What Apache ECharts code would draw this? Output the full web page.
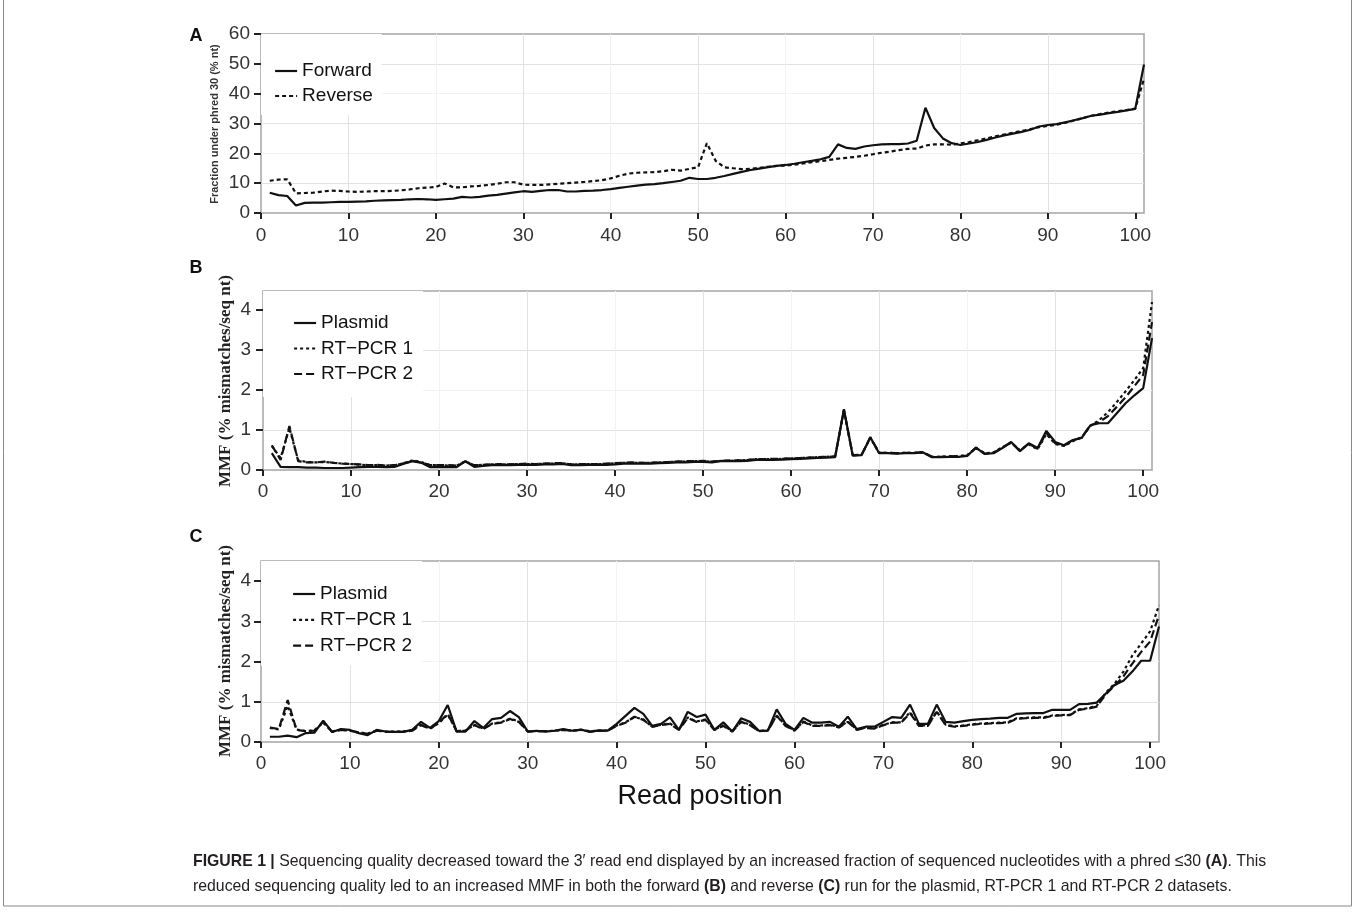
<!DOCTYPE html>
<html><head><meta charset="utf-8">
<script src="https://cdn.jsdelivr.net/npm/echarts@6/dist/echarts.min.js"></script>
<style>html,body{margin:0;padding:0;background:#fff}#chart{width:1355px;height:914px}</style>
</head><body><div id="chart"></div>
<script>
// ---------- DATA ----------
const readPositions = [];
for (let p = 1; p <= 101; p++) readPositions.push(p);

const xTickLabels = [0, 10, 20, 30, 40, 50, 60, 70, 80, 90, 100];
const yTicksA = [0, 10, 20, 30, 40, 50, 60];
const yTicksMMF = [0, 1, 2, 3, 4];

// Panel A: fraction under phred 30 (% nt)
const aForward = [6.8,6.0,5.7,2.5,3.4,3.5,3.5,3.6,3.7,3.7,
  3.8,3.9,4.1,4.2,4.3,4.4,4.6,4.7,4.6,4.4,
  4.6,4.8,5.4,5.2,5.4,5.8,6.1,6.5,6.9,7.3,
  7.1,7.4,7.7,7.7,7.2,7.2,7.4,7.5,7.7,8.0,
  8.4,8.8,9.2,9.5,9.7,10.0,10.4,10.8,11.8,11.4,
  11.4,11.8,12.4,13.1,13.8,14.4,14.9,15.4,15.8,16.1,
  16.5,17.0,17.5,18.0,18.8,23.0,21.8,21.5,22.3,22.7,
  23.0,23.1,23.1,23.3,24.2,35.3,28.5,25.0,23.4,22.8,
  23.3,23.8,24.5,25.3,26.0,26.6,27.2,27.9,29.0,29.5,
  29.8,30.4,31.1,31.8,32.6,33.0,33.5,33.9,34.4,34.9,49.8];
const aReverse = [10.8,11.2,11.3,6.6,6.7,6.8,7.2,7.5,7.4,7.2,
  7.1,7.2,7.3,7.3,7.4,7.6,7.9,8.3,8.5,8.7,
  9.9,8.6,8.6,8.9,9.1,9.4,9.8,10.3,10.3,9.5,
  9.4,9.4,9.6,9.8,10.0,10.2,10.4,10.7,11.0,11.6,
  12.5,13.2,13.5,13.6,13.7,14.0,14.5,14.2,14.8,15.4,
  23.4,17.5,15.3,15.0,14.7,14.8,15.1,15.5,15.8,15.9,
  16.2,16.6,17.0,17.4,17.8,18.2,18.5,18.8,19.2,19.7,
  20.2,20.6,21.1,21.5,21.6,22.6,23.0,23.0,22.9,23.3,
  23.8,24.4,25.0,25.7,26.3,26.9,27.5,28.1,28.8,29.2,
  29.6,30.3,31.0,31.8,32.6,33.2,33.7,34.1,34.5,35.0,45.0];

// Panel B: MMF forward run
const bPlasmid = [0.42,0.08,0.07,0.07,0.06,0.06,0.05,0.05,0.05,0.06,
  0.07,0.08,0.08,0.07,0.08,0.16,0.22,0.18,0.07,0.08,
  0.07,0.07,0.22,0.08,0.10,0.12,0.12,0.12,0.13,0.13,
  0.13,0.14,0.14,0.15,0.12,0.12,0.13,0.13,0.13,0.14,
  0.16,0.16,0.16,0.16,0.17,0.18,0.19,0.19,0.20,0.20,
  0.19,0.22,0.22,0.22,0.23,0.25,0.25,0.25,0.26,0.27,
  0.28,0.29,0.30,0.31,0.32,1.52,0.36,0.37,0.82,0.42,
  0.42,0.41,0.42,0.42,0.44,0.32,0.32,0.33,0.33,0.35,
  0.56,0.40,0.42,0.55,0.70,0.47,0.67,0.55,0.98,0.70,
  0.62,0.75,0.80,1.12,1.17,1.17,1.42,1.67,1.87,2.05,3.30];
const bRT1 = [0.60,0.30,1.05,0.24,0.20,0.19,0.20,0.18,0.16,0.15,
  0.13,0.12,0.12,0.11,0.12,0.17,0.24,0.20,0.12,0.12,
  0.11,0.11,0.22,0.11,0.13,0.14,0.14,0.14,0.15,0.15,
  0.15,0.16,0.16,0.17,0.14,0.14,0.15,0.15,0.15,0.17,
  0.18,0.18,0.18,0.18,0.19,0.20,0.21,0.21,0.22,0.22,
  0.21,0.23,0.23,0.24,0.25,0.27,0.27,0.27,0.28,0.29,
  0.30,0.31,0.32,0.33,0.34,1.48,0.37,0.38,0.80,0.43,
  0.43,0.42,0.43,0.43,0.44,0.33,0.33,0.34,0.35,0.37,
  0.55,0.42,0.44,0.57,0.68,0.50,0.64,0.52,0.90,0.65,
  0.60,0.72,0.82,1.10,1.25,1.45,1.70,1.97,2.25,2.55,4.20];
const bRT2 = [0.62,0.25,1.10,0.22,0.19,0.19,0.21,0.18,0.16,0.15,
  0.14,0.12,0.13,0.11,0.12,0.17,0.23,0.19,0.12,0.12,
  0.12,0.11,0.21,0.12,0.13,0.14,0.15,0.14,0.15,0.16,
  0.15,0.16,0.17,0.17,0.14,0.15,0.15,0.15,0.16,0.17,
  0.18,0.19,0.18,0.18,0.19,0.20,0.21,0.22,0.22,0.23,
  0.21,0.23,0.24,0.24,0.25,0.27,0.27,0.28,0.28,0.29,
  0.30,0.31,0.32,0.33,0.34,1.50,0.37,0.38,0.82,0.43,
  0.43,0.42,0.43,0.43,0.45,0.33,0.33,0.34,0.35,0.36,
  0.56,0.41,0.43,0.56,0.69,0.48,0.66,0.53,0.93,0.67,
  0.61,0.74,0.81,1.12,1.20,1.35,1.58,1.82,2.10,2.38,3.70];

// Panel C: MMF reverse run
const cPlasmid = [0.13,0.13,0.16,0.12,0.22,0.23,0.53,0.25,0.32,0.30,
  0.22,0.17,0.30,0.26,0.25,0.25,0.30,0.50,0.35,0.52,
  0.92,0.26,0.26,0.52,0.35,0.57,0.60,0.77,0.62,0.26,
  0.28,0.26,0.28,0.32,0.28,0.31,0.25,0.29,0.28,0.45,
  0.65,0.85,0.70,0.40,0.45,0.61,0.30,0.75,0.62,0.68,
  0.30,0.49,0.26,0.59,0.50,0.28,0.28,0.81,0.45,0.30,
  0.60,0.48,0.48,0.50,0.38,0.63,0.32,0.38,0.38,0.50,
  0.62,0.60,0.93,0.45,0.45,0.93,0.50,0.48,0.52,0.55,
  0.57,0.58,0.60,0.60,0.70,0.71,0.72,0.72,0.80,0.80,
  0.80,0.94,0.95,0.98,1.20,1.42,1.52,1.75,2.02,2.02,2.87];
const cRT1 = [0.35,0.31,0.90,0.31,0.27,0.29,0.48,0.26,0.31,0.28,
  0.24,0.21,0.28,0.26,0.26,0.26,0.29,0.43,0.33,0.47,
  0.68,0.28,0.28,0.43,0.33,0.46,0.49,0.58,0.51,0.27,
  0.27,0.27,0.28,0.30,0.28,0.30,0.27,0.28,0.29,0.41,
  0.49,0.62,0.56,0.38,0.43,0.46,0.31,0.61,0.51,0.56,
  0.31,0.41,0.27,0.51,0.43,0.27,0.29,0.66,0.41,0.29,
  0.51,0.41,0.41,0.43,0.37,0.51,0.31,0.36,0.34,0.43,
  0.49,0.49,0.74,0.41,0.41,0.76,0.43,0.39,0.41,0.44,
  0.46,0.47,0.48,0.49,0.59,0.60,0.61,0.61,0.66,0.67,
  0.68,0.81,0.84,0.90,1.22,1.45,1.75,2.15,2.45,2.75,3.40];
const cRT2 = [0.36,0.32,1.04,0.30,0.27,0.28,0.50,0.25,0.30,0.28,
  0.24,0.20,0.28,0.26,0.25,0.26,0.28,0.42,0.33,0.48,
  0.70,0.27,0.28,0.42,0.32,0.45,0.48,0.57,0.50,0.26,
  0.27,0.27,0.28,0.30,0.28,0.30,0.26,0.28,0.28,0.40,
  0.48,0.63,0.55,0.38,0.42,0.45,0.30,0.60,0.50,0.55,
  0.30,0.40,0.26,0.50,0.42,0.27,0.28,0.65,0.40,0.28,
  0.50,0.40,0.40,0.42,0.36,0.50,0.30,0.35,0.33,0.42,
  0.48,0.48,0.72,0.40,0.40,0.75,0.42,0.38,0.40,0.43,
  0.45,0.46,0.47,0.48,0.58,0.59,0.60,0.60,0.65,0.66,
  0.67,0.80,0.83,0.88,1.18,1.40,1.63,1.95,2.24,2.50,3.15];

const captionLine1 = '{b|FIGURE 1 |} Sequencing quality decreased toward the 3\u2032 read end displayed by an increased fraction of sequenced nucleotides with a phred \u226430 {b|(A)}. This';
const captionLine2 = 'reduced sequencing quality led to an increased MMF in both the forward {b|(B)} and reverse {b|(C)} run for the plasmid, RT-PCR 1 and RT-PCR 2 datasets.';

// ---------- CHART ----------
const SANS = '"Liberation Sans", Arial, Helvetica, sans-serif';
const SERIF = '"Liberation Serif", "Times New Roman", serif';
const INK = '#111';
const GRID_MAJOR = '#e2e2e2';
const GRID_MINOR = '#f2f2f2';
const CAP_SIZE = 17;

function pairs(arr) { return readPositions.map((p, i) => [p, arr[i]]); }

function xAxisFor(gi, margin) {
  return {
    type: 'value', gridIndex: gi, min: 0, max: 101, interval: 5,
    axisLine: { show: false },
    axisTick: { show: true, customValues: xTickLabels, length: 6, lineStyle: { color: '#222', width: 2 } },
    axisLabel: { customValues: xTickLabels, fontSize: 19, color: '#333', fontFamily: SANS, margin: margin },
    splitLine: { show: true, showMinLine: false, showMaxLine: false, lineStyle: { color: [GRID_MAJOR, GRID_MINOR], width: 1 } }
  };
}
function yAxisFor(gi, max, interval, ticks, margin) {
  return {
    type: 'value', gridIndex: gi, min: 0, max: max, interval: interval,
    axisLine: { show: false },
    axisTick: { show: true, customValues: ticks, length: 7, lineStyle: { color: '#222', width: 2 } },
    axisLabel: { customValues: ticks, fontSize: 19, color: '#333', fontFamily: SANS, margin: margin },
    splitLine: { show: true, showMinLine: false, showMaxLine: false, lineStyle: { color: [GRID_MAJOR, GRID_MINOR], width: 1 } }
  };
}
function lineSeries(name, arr, gi, dash) {
  return {
    type: 'line', name: name, xAxisIndex: gi, yAxisIndex: gi,
    data: pairs(arr), showSymbol: false, symbol: 'none',
    lineStyle: { color: INK, width: 2.2, type: dash || 'solid' },
    itemStyle: { color: INK },
    emphasis: { disabled: true }, z: 3
  };
}
function legendFor(names, left, top, padding, gap) {
  return {
    data: names, orient: 'vertical', left: left, top: top, padding: padding,
    itemWidth: 22, itemHeight: 14, itemGap: gap,
    backgroundColor: '#fff', selectedMode: false,
    itemStyle: { opacity: 0, borderWidth: 0 },
    lineStyle: { width: 2.2 },
    textStyle: { fontSize: 19, color: INK, fontFamily: SANS, lineHeight: 20 }
  };
}

// caption horizontal scale (condensed look)
const mctx = document.createElement('canvas').getContext('2d');
mctx.font = CAP_SIZE + 'px ' + SANS;
const plain1 = captionLine1.replace(/\{b\|([^}]*)\}/g, '$1');
const capScale = 1072 / mctx.measureText(plain1).width;

const capRich = { b: { fontWeight: 'bold', fontSize: CAP_SIZE, fontFamily: SANS, fill: '#231f20' } };

const option = {
  animation: false,
  backgroundColor: '#fff',
  grid: [
    { left: 261, top: 34, width: 883, height: 179, show: true, borderColor: '#a5a5a5', borderWidth: 1.5, backgroundColor: 'transparent' },
    { left: 263, top: 291, width: 889, height: 179, show: true, borderColor: '#a5a5a5', borderWidth: 1.5, backgroundColor: 'transparent' },
    { left: 261, top: 561, width: 898, height: 181, show: true, borderColor: '#a5a5a5', borderWidth: 1.5, backgroundColor: 'transparent' }
  ],
  xAxis: [xAxisFor(0, 13), xAxisFor(1, 12), xAxisFor(2, 12)],
  yAxis: [yAxisFor(0, 60, 5, yTicksA, 11), yAxisFor(1, 4.48, 0.5, yTicksMMF, 12), yAxisFor(2, 4.5, 0.5, yTicksMMF, 10)],
  legend: [
    legendFor(['Forward', 'Reverse'], 261, 34, [27, 9, 9, 13], 5),
    legendFor(['Plasmid', 'RT\u2212PCR 1', 'RT\u2212PCR 2'], 263, 291, [22, 10, 13, 30], 5.5),
    legendFor(['Plasmid', 'RT\u2212PCR 1', 'RT\u2212PCR 2'], 261, 561, [23, 10, 10, 31], 5.8)
  ],
  series: [
    lineSeries('Forward', aForward, 0),
    lineSeries('Reverse', aReverse, 0, [4, 3]),
    lineSeries('Plasmid', bPlasmid, 1),
    lineSeries('RT\u2212PCR 1', bRT1, 1, [3, 3]),
    lineSeries('RT\u2212PCR 2', bRT2, 1, [8, 4]),
    lineSeries('Plasmid', cPlasmid, 2),
    lineSeries('RT\u2212PCR 1', cRT1, 2, [3, 3]),
    lineSeries('RT\u2212PCR 2', cRT2, 2, [8, 4])
  ],
  graphic: [
    { type: 'rect', silent: true, shape: { x: 3.5, y: -2, width: 1348, height: 908 }, style: { fill: 'none', stroke: '#888', lineWidth: 1 } },
    { type: 'text', x: 196, y: 36, style: { text: 'A', font: 'bold 18px ' + SANS, fill: INK, align: 'center', verticalAlign: 'middle' } },
    { type: 'text', x: 196, y: 268, style: { text: 'B', font: 'bold 18px ' + SANS, fill: INK, align: 'center', verticalAlign: 'middle' } },
    { type: 'text', x: 196, y: 537, style: { text: 'C', font: 'bold 18px ' + SANS, fill: INK, align: 'center', verticalAlign: 'middle' } },
    { type: 'text', x: 215, y: 124, rotation: Math.PI / 2, style: { text: 'Fraction under phred 30 (% nt)', font: 'bold 11px ' + SANS, fill: '#333', align: 'center', verticalAlign: 'middle' } },
    { type: 'text', x: 226, y: 381, rotation: Math.PI / 2, style: { text: 'MMF (% mismatches/seq nt)', font: 'bold 17px ' + SERIF, fill: '#222', align: 'center', verticalAlign: 'middle' } },
    { type: 'text', x: 226, y: 651, rotation: Math.PI / 2, style: { text: 'MMF (% mismatches/seq nt)', font: 'bold 17px ' + SERIF, fill: '#222', align: 'center', verticalAlign: 'middle' } },
    { type: 'text', x: 700, y: 797, style: { text: 'Read position', font: '27px ' + SANS, fill: INK, align: 'center', verticalAlign: 'middle' } },
    { type: 'text', x: 193, y: 861, scaleX: capScale, style: { text: captionLine1, font: CAP_SIZE + 'px ' + SANS, fill: '#231f20', verticalAlign: 'middle', rich: capRich } },
    { type: 'text', x: 193, y: 886, scaleX: capScale, style: { text: captionLine2, font: CAP_SIZE + 'px ' + SANS, fill: '#231f20', verticalAlign: 'middle', rich: capRich } }
  ]
};

const chart = echarts.init(document.getElementById('chart'), null, { renderer: 'canvas' });
chart.setOption(option);
</script>
</body></html>
